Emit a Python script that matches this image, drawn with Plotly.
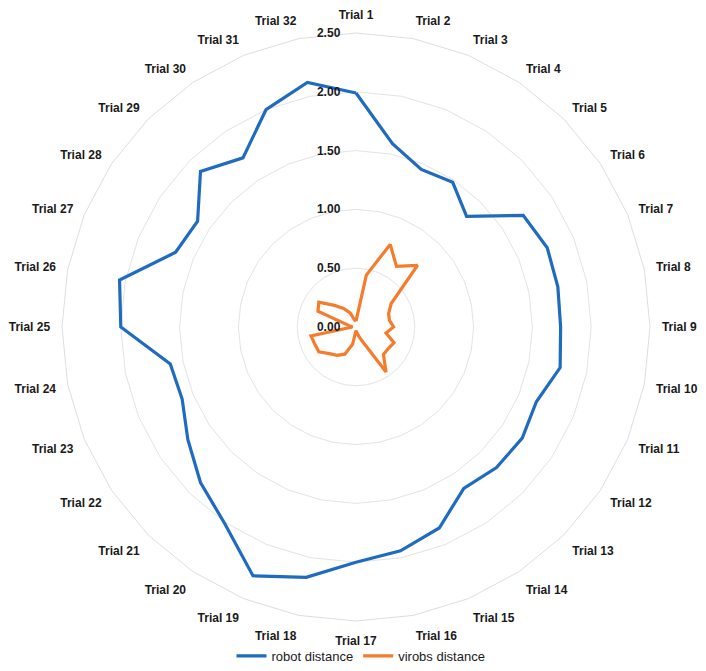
import plotly.graph_objects as go

trials = [f"Trial {i}" for i in range(1, 33)]

robot_distance = [1.99, 1.59, 1.45, 1.48, 1.33, 1.71, 1.76, 1.75, 1.74, 1.77,
                  1.66, 1.70, 1.69, 1.65, 1.85, 1.94, 2.00, 2.17, 2.29, 2.01,
                  1.87, 1.72, 1.60, 1.61, 2.00, 2.05, 1.66, 1.62, 1.87, 1.73,
                  2.00, 2.12]

virobs_distance = [0.05, 0.45, 0.76, 0.62, 0.74, 0.36, 0.30, 0.29, 0.32, 0.26,
                   0.35, 0.33, 0.33, 0.46, 0.12, 0.06, 0.03, 0.15, 0.25, 0.29,
                   0.32, 0.38, 0.38, 0.39, 0.03, 0.06, 0.35, 0.38, 0.26, 0.19,
                   0.13, 0.06]

radial_ticks = [0, 0.5, 1.0, 1.5, 2.0, 2.5]
radial_ticktext = [f"{v:.2f}" for v in radial_ticks]

fig = go.Figure()
fig.add_trace(go.Scatterpolar(
    r=robot_distance + robot_distance[:1],
    theta=trials + trials[:1],
    mode="lines",
    name="robot distance",
    line=dict(color="#1F6BBF", width=3.2),
))
fig.add_trace(go.Scatterpolar(
    r=virobs_distance + virobs_distance[:1],
    theta=trials + trials[:1],
    mode="lines",
    name="virobs distance",
    line=dict(color="#F47C2C", width=3.2),
))

W, H = 706, 671
cx, cy, R = 348, 319, 294
fig.update_layout(
    width=W, height=H,
    margin=dict(l=0, r=0, t=0, b=0),
    paper_bgcolor="white",
    plot_bgcolor="white",
    font=dict(family="Liberation Sans, Arial, sans-serif", color="#1a1a1a"),
    polar=dict(
        domain=dict(x=[(cx - R) / W, (cx + R) / W],
                    y=[(H - cy - R) / H, (H - cy + R) / H]),
        bgcolor="white",
        gridshape="linear",
        angularaxis=dict(
            direction="clockwise",
            rotation=90,
            type="category",
            categoryorder="array",
            categoryarray=trials,
            showgrid=False,
            showline=True,
            linecolor="#dedede",
            linewidth=1,
            ticks="outside",
            ticklen=9,
            tickcolor="rgba(0,0,0,0)",
            tickfont=dict(size=12, family="Liberation Sans, Arial, sans-serif",
                          color="#1a1a1a", weight="bold"),
        ),
        radialaxis=dict(
            range=[0, 2.5],
            tickvals=radial_ticks,
            ticktext=radial_ticktext,
            angle=90,
            tickangle=90,
            side="counterclockwise",
            showline=False,
            ticks="outside",
            ticklen=11,
            tickcolor="rgba(0,0,0,0)",
            gridcolor="#e3e3e3",
            gridwidth=1,
            tickfont=dict(size=12, family="Liberation Sans, Arial, sans-serif",
                          color="#1a1a1a", weight="bold"),
        ),
    ),
    showlegend=True,
    legend=dict(
        orientation="h",
        x=0.5, xanchor="center",
        y=(H - 648) / H, yanchor="middle",
        font=dict(size=13, family="Liberation Sans, Arial, sans-serif", color="#1a1a1a"),
        itemwidth=30,
        bgcolor="rgba(0,0,0,0)",
    ),
)

fig.write_html("out.html")
